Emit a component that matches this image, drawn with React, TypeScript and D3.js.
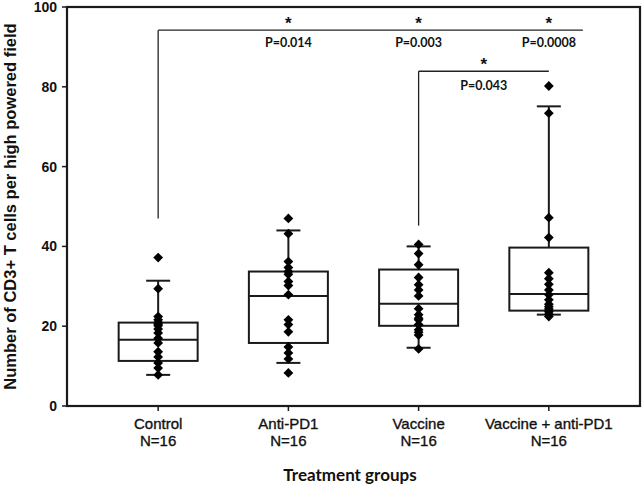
import React from "react";
import * as d3 from "d3";

// Groups and their box statistics
const groups: string[] = ["Control", "Anti-PD1", "Vaccine", "Vaccine + anti-PD1"];
const groupN: string[] = ["N=16", "N=16", "N=16", "N=16"];
const whiskerLow: number[] = [7.8, 10.8, 14.6, 22.9];
const q1: number[] = [11.3, 15.8, 20.1, 23.9];
const median: number[] = [16.6, 27.6, 25.6, 28.1];
const q3: number[] = [20.9, 33.7, 34.2, 39.7];
const whiskerHigh: number[] = [31.4, 44, 40, 75.1];

// Individual observations per group
const controlPts: number[] = [37.2, 29.4, 22.4, 21.6, 20.9, 20.5, 20.1, 19.3, 18.3, 17, 15.8, 13.6, 12.3, 10.8, 9.5, 7.8];
const antiPd1Pts: number[] = [47, 43.2, 36.2, 34.7, 33.7, 33, 31.2, 30.2, 27.9, 21.6, 20.4, 18.6, 14.8, 13.3, 11.8, 8.3];
const vaccinePts: number[] = [40.5, 38.2, 35.4, 32.2, 30.4, 29.1, 27.6, 24.4, 22.9, 22, 21.6, 20.4, 19.1, 18.5, 17.8, 14.3];
const comboPts: number[] = [80.2, 73.4, 47.2, 42.2, 33.4, 31.9, 30.5, 29.1, 27.9, 26.6, 25.5, 24.9, 24.3, 23.6, 23, 22.4];
const points: number[][] = [controlPts, antiPd1Pts, vaccinePts, comboPts];

const yTicks: number[] = [0, 20, 40, 60, 80, 100];

// Significance brackets and their p-values
const bracketLong = { from: "Control", to: "Vaccine + anti-PD1", level: 94.2, drop: 47 };
const longLabels = [
  { group: "Anti-PD1", p: "P=0.014" },
  { group: "Vaccine", p: "P=0.003" },
  { group: "Vaccine + anti-PD1", p: "P=0.0008" },
];
const bracketShort = { from: "Vaccine", to: "Vaccine + anti-PD1", level: 83.9, drop: 45.2, p: "P=0.043" };

const width = 643;
const height = 486;
const marginLeft = 67;
const marginRight = 3;
const marginTop = 7;
const marginBottom = 80;

const App: React.FC = () => {
  const x = d3.scalePoint<string>()
    .domain(groups)
    .range([marginLeft, width - marginRight])
    .padding(0.7);

  const y = d3.scaleLinear()
    .domain([0, 100])
    .range([height - marginBottom, marginTop]);

  const boxW = 79;
  const capW = 24;
  const diamond = d3.symbol().type(d3.symbolSquare).size(48)()!;
  const pFont = "Lato, 'Open Sans', sans-serif";
  const axisFont = "'Liberation Sans', Arial, sans-serif";
  const stroke = "#1a1a1a";

  const shortMid = ((x(bracketShort.from) as number) + (x(bracketShort.to) as number)) / 2;

  return (
    <svg width={width} height={height} style={{ position: "absolute", left: 0, top: 0, background: "#fff" }}>
      {/* frame */}
      <rect
        x={marginLeft}
        y={marginTop}
        width={width - marginRight - marginLeft}
        height={height - marginBottom - marginTop}
        fill="none"
        stroke={stroke}
        strokeWidth={2.2}
      />

      {/* y axis ticks */}
      {yTicks.map(t => (
        <g key={t}>
          <line x1={marginLeft - 5} x2={marginLeft} y1={y(t)} y2={y(t)} stroke={stroke} strokeWidth={1.5} />
          <text x={marginLeft - 10} y={y(t)} dy="0.36em" textAnchor="end" fontFamily={axisFont} fontWeight="bold" fontSize={14} fill="#111">
            {t}
          </text>
        </g>
      ))}

      {/* x axis ticks and labels */}
      {groups.map((g, i) => (
        <g key={g} fontFamily={axisFont} fontSize={15} fill="#111" stroke="#111" strokeWidth={0.35} textAnchor="middle">
          <line x1={x(g)} x2={x(g)} y1={y(0)} y2={y(0) + 5} stroke={stroke} strokeWidth={1.5} />
          <text x={x(g)} y={y(0) + 23}>{g}</text>
          <text x={x(g)} y={y(0) + 40}>{groupN[i]}</text>
        </g>
      ))}

      {/* axis titles */}
      <text
        transform={`translate(16,${(y(0) + y(100)) / 2}) rotate(-90)`}
        textAnchor="middle"
        fontFamily={axisFont}
        fontWeight="bold"
        fontSize={16.5}
        fill="#111"
      >
        Number of CD3+ T cells per high powered field
      </text>
      <text x={350} y={481} textAnchor="middle" fontFamily={pFont} fontWeight="bold" fontSize={17} fill="#111">
        Treatment groups
      </text>

      {/* boxes */}
      {groups.map((g, i) => {
        const cx = x(g) as number;
        return (
          <g key={g} stroke={stroke} strokeWidth={2} fill="none">
            <line x1={cx} x2={cx} y1={y(q3[i])} y2={y(whiskerHigh[i])} />
            <line x1={cx} x2={cx} y1={y(q1[i])} y2={y(whiskerLow[i])} />
            <line x1={cx - capW / 2} x2={cx + capW / 2} y1={y(whiskerHigh[i])} y2={y(whiskerHigh[i])} />
            <line x1={cx - capW / 2} x2={cx + capW / 2} y1={y(whiskerLow[i])} y2={y(whiskerLow[i])} />
            <rect x={cx - boxW / 2} y={y(q3[i])} width={boxW} height={y(q1[i]) - y(q3[i])} />
            <line x1={cx - boxW / 2} x2={cx + boxW / 2} y1={y(median[i])} y2={y(median[i])} />
          </g>
        );
      })}

      {/* points */}
      {groups.map((g, i) => (
        <g key={g}>
          {points[i].map((v, j) => (
            <path key={j} d={diamond} transform={`translate(${x(g)},${y(v)}) rotate(45)`} fill="#000" />
          ))}
        </g>
      ))}

      {/* brackets */}
      <g stroke="#222" strokeWidth={1.3} fill="none">
        <line x1={x(bracketLong.from)} x2={x(bracketLong.to)! + 34} y1={y(bracketLong.level)} y2={y(bracketLong.level)} />
        <line x1={x(bracketLong.from)} x2={x(bracketLong.from)} y1={y(bracketLong.level)} y2={y(bracketLong.drop)} />
        <line x1={x(bracketShort.from)} x2={x(bracketShort.to)} y1={y(bracketShort.level)} y2={y(bracketShort.level)} />
        <line x1={x(bracketShort.from)} x2={x(bracketShort.from)} y1={y(bracketShort.level)} y2={y(bracketShort.drop)} />
      </g>
      {longLabels.map(l => (
        <g key={l.p}>
          <text x={x(l.group)} y={y(bracketLong.level) - 1} textAnchor="middle" fontFamily={axisFont} fontWeight="bold" fontSize={17} fill="#111">*</text>
          <text x={x(l.group)} y={y(bracketLong.level) + 17} textAnchor="middle" fontFamily={pFont} fontWeight="bold" fontSize={12.5} fill="#111">{l.p}</text>
        </g>
      ))}
      <text x={shortMid} y={y(bracketShort.level) - 1} textAnchor="middle" fontFamily={axisFont} fontWeight="bold" fontSize={17} fill="#111">*</text>
      <text x={shortMid} y={y(bracketShort.level) + 19} textAnchor="middle" fontFamily={pFont} fontWeight="bold" fontSize={12.5} fill="#111">{bracketShort.p}</text>
    </svg>
  );
};

export default App;
